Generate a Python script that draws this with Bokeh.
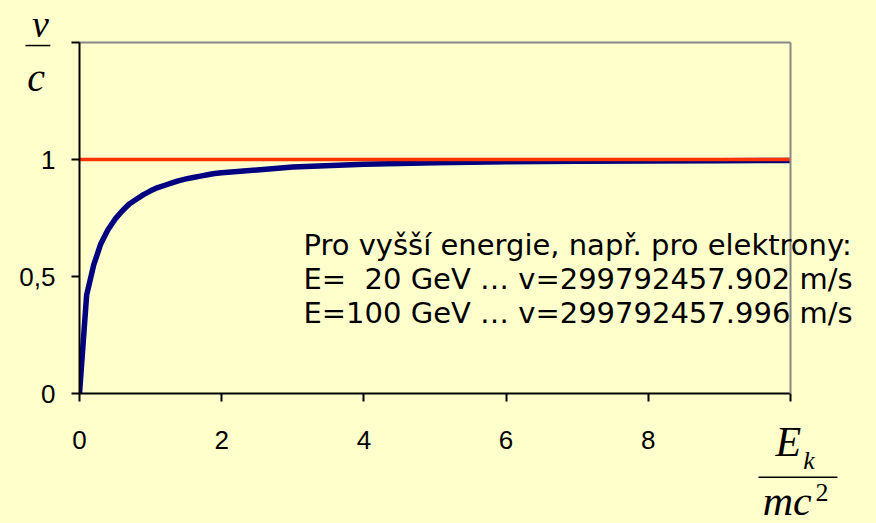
from bokeh.plotting import figure
from bokeh.models import Range1d, FixedTicker, LinearAxis, ColumnDataSource
from bokeh.core.properties import value
from bokeh.embed import file_html
from bokeh.resources import INLINE

# data
ek_over_mc2 = [0, 0.1, 0.2, 0.3, 0.4, 0.5, 0.6, 0.7, 0.8, 0.9, 1.0,
               1.1, 1.2, 1.3, 1.4, 1.5, 1.6, 1.7, 1.8, 1.9, 2.0,
               3, 4, 5, 6, 7, 8, 9, 10]
v_over_c = [0, 0.42, 0.55, 0.64, 0.70, 0.745, 0.78, 0.81, 0.83, 0.85, 0.866,
            0.88, 0.89, 0.90, 0.91, 0.917, 0.923, 0.929, 0.935, 0.94, 0.943,
            0.968, 0.98, 0.986, 0.99, 0.992, 0.994, 0.995, 0.996]
limit_x = [0, 10]
limit_y = [1, 1]
x_ticks = [0, 2, 4, 6, 8, 10]
x_tick_labels = {0: "0", 2: "2", 4: "4", 6: "6", 8: "8", 10: ""}
y_ticks = [0, 0.5, 1, 1.5]
y_tick_labels = {0: "0", 0.5: "0,5", 1: "1", 1.5: ""}
note_lines = ["Pro vyšší energie, např. pro elektrony:",
              "E=\u00a0 20 GeV … v=299792457.902 m/s",
              "E=100 GeV … v=299792457.996 m/s"]
note_x = [3.15, 3.15, 3.15]
note_y = [0.636, 0.49, 0.344]

BG = "#FFFFCC"

p = figure(width=876, height=523, output_backend="svg", toolbar_location=None,
           x_range=Range1d(0, 10), y_range=Range1d(0, 1.5),
           min_border_left=79, min_border_right=86, min_border_top=42,
           min_border_bottom=130)
p.background_fill_color = BG
p.border_fill_color = BG
p.outline_line_color = None
p.grid.visible = False

for ax in (p.xaxis[0], p.yaxis[0]):
    ax.axis_line_color = "black"
    ax.axis_line_width = 2
    ax.major_tick_line_color = "black"
    ax.major_tick_line_width = 2
    ax.major_tick_out = 8
    ax.major_tick_in = 0
    ax.minor_tick_line_color = None
    ax.major_label_text_font = "Liberation Sans"
    ax.major_label_text_font_size = "26px"
    ax.major_label_text_color = "black"

p.xaxis[0].ticker = FixedTicker(ticks=x_ticks)
p.xaxis[0].major_label_overrides = x_tick_labels
p.xaxis[0].major_label_standoff = 29
p.yaxis[0].ticker = FixedTicker(ticks=y_ticks)
p.yaxis[0].major_label_overrides = y_tick_labels
p.yaxis[0].major_label_standoff = 16

for loc in ("above", "right"):
    ax = LinearAxis(ticker=FixedTicker(ticks=[]), major_label_text_font_size="0px",
                    axis_line_color="#888888", axis_line_width=2,
                    major_tick_line_color=None, minor_tick_line_color=None)
    p.add_layout(ax, loc)

p.line(ek_over_mc2, v_over_c, line_color="#000080", line_width=5.5)
p.line(limit_x, limit_y, line_color="#FF3300", line_width=3.5)

# annotation text (overlay level so it may run past the frame edge)
note_src = ColumnDataSource(dict(x=note_x, y=note_y, t=note_lines))
p.text(x="x", y="y", text="t", source=note_src, text_font=value("DejaVu Sans"),
       text_font_size=value("29px"), text_color="black", text_baseline="alphabetic",
       text_align="left", level="overlay")

math_font = value("Liberation Serif")
# y-axis label v/c
p.text(x=[-0.55], y=[1.58], text=["v"], text_font=math_font, text_font_style="italic",
       text_font_size=value("38px"), text_align="center", text_baseline="alphabetic",
       level="overlay")
p.segment(x0=[-0.76], y0=[1.487], x1=[-0.41], y1=[1.487], line_color="black",
          line_width=1.5, level="overlay")
p.text(x=[-0.61], y=[1.35], text=["c"], text_font=math_font, text_font_style="italic",
       text_font_size=value("40px"), text_align="center", text_baseline="alphabetic",
       level="overlay")

# x-axis label Ek/mc^2
p.text(x=[9.79], y=[-0.209], text=["E"], text_font=math_font, text_font_style="italic",
       text_font_size=value("42px"), text_align="left", text_baseline="alphabetic",
       level="overlay")
p.text(x=[10.18], y=[-0.286], text=["k"], text_font=math_font, text_font_style="italic",
       text_font_size=value("26px"), text_align="left", text_baseline="alphabetic",
       level="overlay")
p.segment(x0=[9.55], y0=[-0.358], x1=[10.66], y1=[-0.358], line_color="black",
          line_width=1.5, level="overlay")
p.text(x=[9.61], y=[-0.461], text=["mc"], text_font=math_font, text_font_style="italic",
       text_font_size=value("42px"), text_align="left", text_baseline="alphabetic",
       level="overlay")
p.text(x=[10.35], y=[-0.424], text=["2"], text_font=math_font,
       text_font_size=value("26px"), text_align="left", text_baseline="alphabetic",
       level="overlay")

html = file_html(p, INLINE)
html = html.replace("</head>", "<style>html,body{background:#FFFFCC;}</style></head>", 1)
open("out.html", "w").write(html)
